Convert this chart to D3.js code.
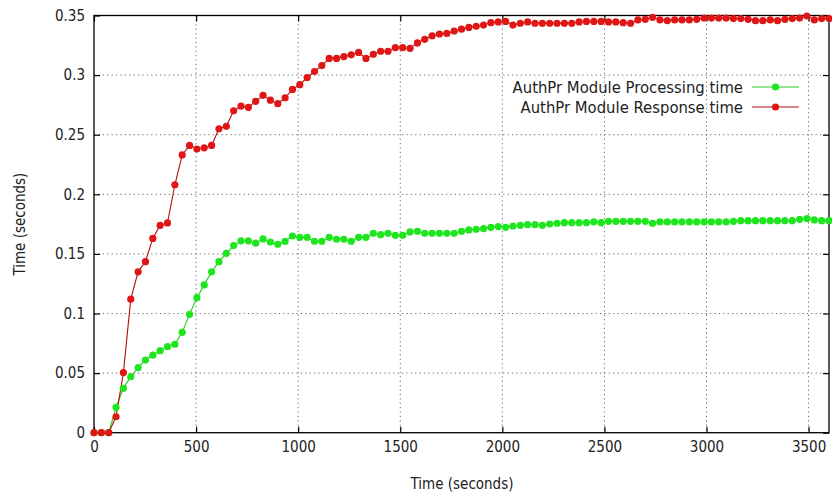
<!DOCTYPE html>
<html>
<head>
<meta charset="utf-8">
<script src="https://cdn.jsdelivr.net/npm/d3@7"></script>
<style>
  html, body { margin: 0; padding: 0; background: #fff; }
  svg { display: block; }
  text { font-family: "DejaVu Sans Condensed", "DejaVu Sans", sans-serif; fill: #222; }
</style>
</head>
<body>
<svg id="chart" width="832" height="499"></svg>
<script>
// ---- Data ----
const times = [0,36,72,108,144,180,216,252,288,324,360,396,432,468,504,540,576,612,648,684,720,756,792,828,864,900,936,972,1008,1044,1080,1116,1152,1188,1224,1260,1296,1332,1368,1404,1440,1476,1512,1548,1584,1620,1656,1692,1728,1764,1800,1836,1872,1908,1944,1980,2016,2052,2088,2124,2160,2196,2232,2268,2304,2340,2376,2412,2448,2484,2520,2556,2592,2628,2664,2700,2736,2772,2808,2844,2880,2916,2952,2988,3024,3060,3096,3132,3168,3204,3240,3276,3312,3348,3384,3420,3456,3492,3528,3564,3600];

const processingTime = [0,0,0,0.0213,0.0372,0.047,0.0546,0.061,0.065,0.0688,0.0722,0.0742,0.0842,0.0993,0.1133,0.124,0.135,0.1435,0.1505,0.157,0.161,0.161,0.159,0.1626,0.160,0.158,0.1605,0.165,0.1639,0.1639,0.1606,0.1606,0.1639,0.1623,0.1623,0.1606,0.1639,0.1639,0.1673,0.1661,0.1673,0.1656,0.1656,0.1684,0.169,0.1673,0.1673,0.1673,0.1673,0.1673,0.169,0.1701,0.1706,0.1712,0.1723,0.1729,0.1723,0.1734,0.174,0.1745,0.1745,0.174,0.1751,0.1757,0.1762,0.1762,0.1762,0.1762,0.1768,0.1762,0.1773,0.1773,0.1773,0.1773,0.1773,0.1773,0.1757,0.1768,0.1768,0.1768,0.1768,0.1768,0.1768,0.1768,0.1768,0.1768,0.1768,0.1773,0.1779,0.1779,0.1779,0.1779,0.1779,0.1779,0.1779,0.1779,0.179,0.1796,0.1785,0.1779,0.1779];

const responseTime = [0,0,0,0.0134,0.0504,0.112,0.135,0.1435,0.163,0.174,0.176,0.208,0.233,0.241,0.238,0.239,0.241,0.255,0.257,0.270,0.274,0.273,0.278,0.283,0.279,0.276,0.281,0.288,0.292,0.298,0.303,0.308,0.314,0.314,0.3155,0.317,0.319,0.314,0.3175,0.320,0.320,0.323,0.323,0.3225,0.327,0.330,0.333,0.3345,0.335,0.337,0.3385,0.340,0.341,0.342,0.344,0.3446,0.345,0.342,0.3435,0.3446,0.3435,0.3435,0.3435,0.3435,0.3435,0.3435,0.3446,0.345,0.345,0.345,0.3446,0.3446,0.344,0.3435,0.3463,0.3468,0.3485,0.3463,0.3457,0.3463,0.3463,0.3463,0.3468,0.3478,0.3478,0.3478,0.3478,0.3474,0.3474,0.3468,0.3457,0.3457,0.3463,0.3457,0.3468,0.3474,0.3478,0.3496,0.3463,0.3474,0.3474];

const xTicks = [0,500,1000,1500,2000,2500,3000,3500];
const yTicks = [0,0.05,0.1,0.15,0.2,0.25,0.3,0.35];
const yTickLabels = ["0","0.05","0.1","0.15","0.2","0.25","0.3","0.35"];
const seriesNames = ["AuthPr Module Processing time","AuthPr Module Response time"];
const seriesColors = ["#1ee61e","#e01515"];
const lineColors = ["#22cc22","#b01010"];

// ---- Layout ----
const svg = d3.select("#chart");
const L = 94, R = 829, T = 15.5, B = 432.7;
const x = d3.scaleLinear().domain([0,3600]).range([L,R]);
const y = d3.scaleLinear().domain([0,0.35]).range([B,T]);

// grid
const grid = svg.append("g");
grid.selectAll("line.gx").data(xTicks.filter(d => d > 0)).join("line")
  .attr("x1", d => x(d)).attr("x2", d => x(d)).attr("y1", T).attr("y2", B)
  .attr("stroke", "#666").attr("stroke-width", 1).attr("stroke-dasharray", "1.2,3.2");
grid.selectAll("line.gy").data(yTicks.filter(d => d > 0 && d < 0.35)).join("line")
  .attr("x1", L).attr("x2", R).attr("y1", d => y(d)).attr("y2", d => y(d))
  .attr("stroke", "#666").attr("stroke-width", 1).attr("stroke-dasharray", "1.2,3.2");

// axes
const fmt = d => yTickLabels[yTicks.indexOf(d)];
const xAxis = svg.append("g").attr("transform", `translate(0,${B})`)
  .call(d3.axisBottom(x).tickValues(xTicks).tickSize(-6).tickPadding(9).tickFormat(d3.format("d")));
const xAxisTop = svg.append("g").attr("transform", `translate(0,${T})`)
  .call(d3.axisTop(x).tickValues(xTicks).tickSize(-6).tickFormat(""));
const yAxis = svg.append("g").attr("transform", `translate(${L},0)`)
  .call(d3.axisLeft(y).tickValues(yTicks).tickSize(-6).tickPadding(9).tickFormat(fmt));
const yAxisRight = svg.append("g").attr("transform", `translate(${R},0)`)
  .call(d3.axisRight(y).tickValues(yTicks).tickSize(-6).tickFormat(""));
[xAxis, xAxisTop, yAxis, yAxisRight].forEach(g => {
  g.select(".domain").remove();
  g.selectAll(".tick line").attr("stroke", "#000").attr("stroke-width", 1.2);
  g.selectAll("text").attr("font-size", 15).attr("fill", "#222")
    .style("font-family", "'DejaVu Sans Condensed','DejaVu Sans',sans-serif");
});

// frame
svg.append("rect").attr("x", L).attr("y", T).attr("width", R - L).attr("height", B - T)
  .attr("fill", "none").attr("stroke", "#000").attr("stroke-width", 1.3);

// axis titles
svg.append("text").attr("x", 462).attr("y", 489).attr("text-anchor", "middle")
  .attr("font-size", 15).text("Time (seconds)");
svg.append("text").attr("transform", `translate(25,${(T + B) / 2}) rotate(-90)`)
  .attr("text-anchor", "middle").attr("font-size", 15).text("Time (seconds)");

// series
const series = [processingTime, responseTime];
const line = d3.line().x((d, i) => x(times[i])).y(d => y(d));
const plot = svg.append("g");
series.forEach((vals, k) => {
  plot.append("path").datum(vals).attr("d", line)
    .attr("fill", "none").attr("stroke", lineColors[k]).attr("stroke-width", 1.1);
});
series.forEach((vals, k) => {
  plot.selectAll(null).data(vals).join("circle")
    .attr("cx", (d, i) => x(times[i])).attr("cy", d => y(d)).attr("r", 3.6)
    .attr("fill", seriesColors[k]);
});

// legend
const leg = svg.append("g");
seriesNames.forEach((name, k) => {
  const ly = 87 + k * 20;
  leg.append("text").attr("x", 743).attr("y", ly).attr("dy", "0.35em")
    .attr("text-anchor", "end").attr("font-size", 16.5).text(name);
  leg.append("line").attr("x1", 752).attr("x2", 799).attr("y1", ly).attr("y2", ly)
    .attr("stroke", lineColors[k]).attr("stroke-width", 1.2);
  leg.append("circle").attr("cx", 775.5).attr("cy", ly).attr("r", 3.6).attr("fill", seriesColors[k]);
});
</script>
</body>
</html>
